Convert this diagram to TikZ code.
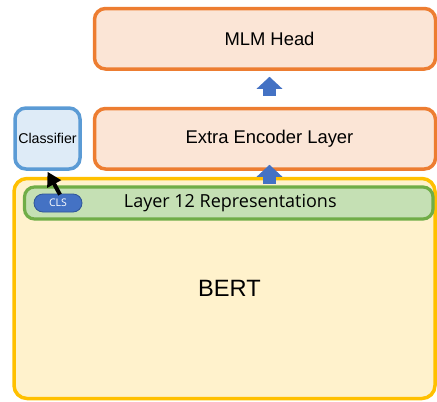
\documentclass[tikz,border=0pt]{standalone}
\usepackage{fontspec}
\setmainfont{Liberation Sans}
\newfontfamily\repfont{Open Sans}
\usetikzlibrary{arrows.meta}
\definecolor{headline}{HTML}{ED7D31}
\definecolor{headfill}{HTML}{FBE5D6}
\definecolor{clfline}{HTML}{5B9BD5}
\definecolor{clffill}{HTML}{DEEBF7}
\definecolor{bertline}{HTML}{FFC000}
\definecolor{bertfill}{HTML}{FFF2CC}
\definecolor{repline}{HTML}{70AD47}
\definecolor{repfill}{HTML}{C5E0B4}
\definecolor{flowblue}{HTML}{4472C4}
\definecolor{clsline}{HTML}{2F5597}

\begin{document}
\begin{tikzpicture}[x=1pt,y=-1pt,
    box/.style={draw, line width=3.5pt, rounded corners=11pt, inner sep=0pt},
    headbox/.style={box, draw=headline, fill=headfill, minimum width=341pt, minimum height=60.5pt, font=\fontsize{18.4}{22}\selectfont},
    flow/.style={-{Triangle[length=12pt,width=25pt]}, line width=13pt, draw=flowblue},
    pointer/.style={-{Triangle[length=14pt,width=15pt]}, line width=4pt, black}]
    \useasboundingbox (0,0) rectangle (437,402);
    % BERT stack
    \node[box, draw=bertline, fill=bertfill, rounded corners=13pt, minimum width=421pt, minimum height=220pt, font=\fontsize{23.6}{28}\selectfont] (bert) at (224.5,288.5) {\raisebox{-3pt}{\hspace{10pt}BERT}};
    \node[headbox] (mlm) at (265,38.75) {\hspace{9pt}MLM Head};
    \node[headbox] (enc) at (265,138.75) {\hspace{9pt}Extra Encoder Layer};
    \node[box, draw=clfline, fill=clffill, minimum width=65pt, minimum height=61pt, font=\fontsize{14.2}{16}\selectfont] (clf) at (47.5,138.5) {Classifier};
    \node[box, draw=repline, line width=3.2pt, fill=repfill, rounded corners=10pt, minimum width=408.5pt, minimum height=32pt, font=\repfont\fontsize{18}{21}\selectfont] (rep) at (228.75,203) {\raisebox{-2pt}{\hspace{3pt}Layer 12 Representations}};
    \node[draw=clsline, line width=0.8pt, fill=flowblue, rounded corners=9pt, minimum width=48pt, minimum height=18pt, inner sep=0pt, text=white, font=\repfont\fontsize{10.5}{12}\selectfont] (cls) at (58,203) {CLS};
    % arrows
    \draw[flow] ([xshift=4.5pt,yshift=11pt]enc.north) -- ([xshift=4.5pt,yshift=-6pt]mlm.south);
    \draw[flow] ([xshift=4.5pt,yshift=1.5pt]rep.north -| enc.north) -- ([xshift=4.5pt,yshift=6pt]enc.south);
    \draw[pointer] ([xshift=2pt,yshift=-1pt]cls.north) -- ([yshift=-1pt]clf.south);
\end{tikzpicture}
\end{document}
